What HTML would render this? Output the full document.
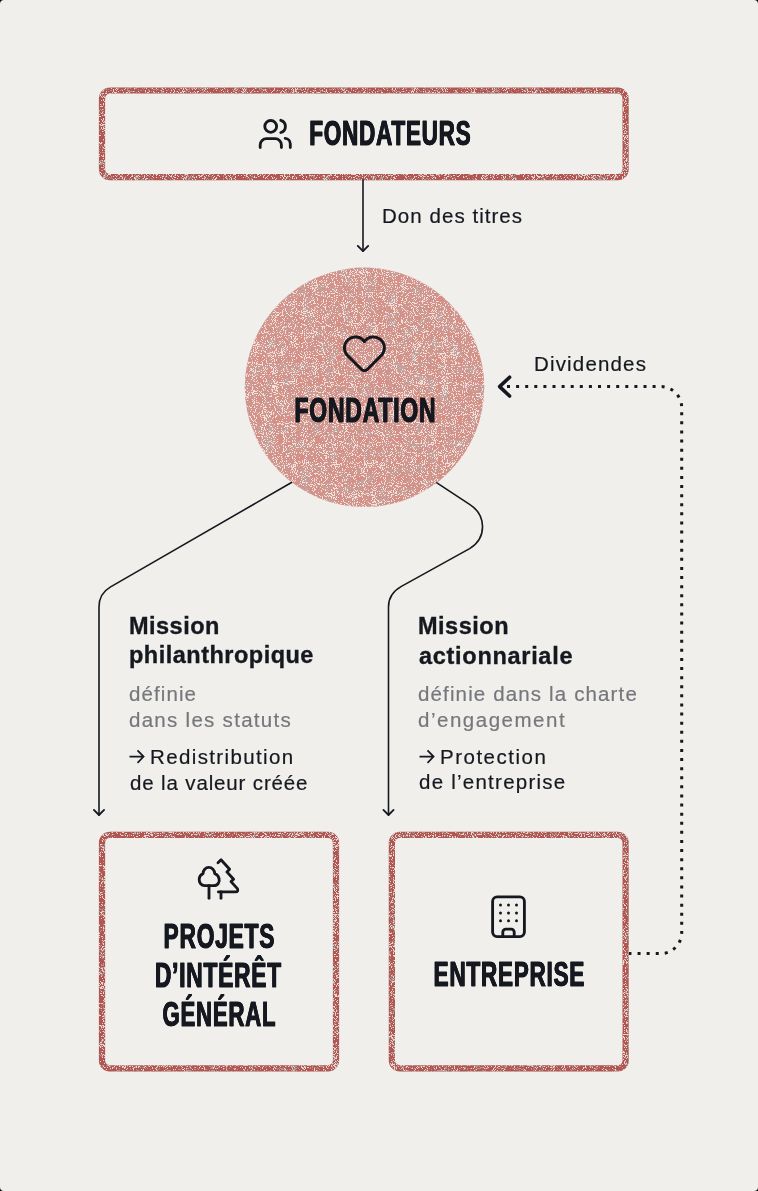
<!DOCTYPE html>
<html><head><meta charset="utf-8">
<style>
html,body{margin:0;padding:0;background:#000;}
#page{position:relative;-webkit-font-smoothing:antialiased;width:758px;height:1191px;background:#F0EFEC;border-radius:4px;overflow:hidden;font-family:"Liberation Sans",sans-serif;color:#15181F;}
svg.full{position:absolute;left:0;top:0;}
.t{position:absolute;will-change:transform;-webkit-text-stroke:0.2px currentColor;white-space:nowrap;font-size:20.5px;line-height:20.5px;letter-spacing:0.9px;}
.g{color:#76777C;}
.b{position:absolute;will-change:transform;-webkit-text-stroke:0.35px #15181F;white-space:nowrap;font-size:23.5px;line-height:23.5px;font-weight:700;letter-spacing:0.35px;}
.h{position:absolute;width:400px;text-align:center;white-space:nowrap;font-size:35.4px;line-height:36px;font-weight:700;transform-origin:50% 50%;-webkit-text-stroke:0.9px #15181F;letter-spacing:1.2px;text-indent:1.2px;text-shadow:0.5px 0 0 #15181F,-0.5px 0 0 #15181F;}
</style></head>
<body><div id="page">
<svg class="full" width="758" height="1191" viewBox="0 0 758 1191">
<defs>
<filter id="spk" filterUnits="userSpaceOnUse" x="0" y="0" width="758" height="1191" color-interpolation-filters="sRGB">
  <feTurbulence type="fractalNoise" baseFrequency="0.9" numOctaves="1" seed="4" result="hi"/>
  <feTurbulence type="fractalNoise" baseFrequency="0.1" numOctaves="2" seed="9" result="lo"/>
  <feColorMatrix in="hi" type="matrix" values="0 0 0 0 1  0 0 0 0 1  0 0 0 0 1  4 0 0 0 -1.5" result="a"/>
  <feColorMatrix in="lo" type="matrix" values="0 0 0 0 1  0 0 0 0 1  0 0 0 0 1  4 0 0 0 -2" result="b"/>
  <feComposite in="a" in2="b" operator="arithmetic" k1="0" k2="0.85" k3="0.3" k4="0" result="m"/>
  <feComponentTransfer in="m" result="w"><feFuncA type="discrete" tableValues="0 0 0 1"/></feComponentTransfer>
  <feFlood flood-color="#F2E0DA" result="wcol"/>
  <feComposite in="wcol" in2="w" operator="in" result="wf"/>
  <feComposite in="wf" in2="SourceGraphic" operator="in" result="wc"/>
  <feTurbulence type="fractalNoise" baseFrequency="0.95" numOctaves="1" seed="21" result="hi2"/>
  <feTurbulence type="fractalNoise" baseFrequency="0.08" numOctaves="2" seed="26" result="lo2"/>
  <feColorMatrix in="hi2" type="matrix" values="0 0 0 0 1  0 0 0 0 1  0 0 0 0 1  4 0 0 0 -1.5" result="a2"/>
  <feColorMatrix in="lo2" type="matrix" values="0 0 0 0 1  0 0 0 0 1  0 0 0 0 1  4 0 0 0 -2" result="b2"/>
  <feComposite in="a2" in2="b2" operator="arithmetic" k1="0" k2="0.85" k3="0.5" k4="0" result="m2"/>
  <feComponentTransfer in="m2" result="g"><feFuncA type="discrete" tableValues="0 0 0 0 0 1"/></feComponentTransfer>
  <feFlood flood-color="#BDAEAB" result="gcol"/>
  <feComposite in="gcol" in2="g" operator="in" result="gf"/>
  <feComposite in="gf" in2="SourceGraphic" operator="in" result="gc"/>
  <feMerge><feMergeNode in="SourceGraphic"/><feMergeNode in="gc"/><feMergeNode in="wc"/></feMerge>
</filter>
<filter id="bspk" filterUnits="userSpaceOnUse" x="0" y="0" width="758" height="1191" color-interpolation-filters="sRGB">
  <feTurbulence type="fractalNoise" baseFrequency="0.9" numOctaves="1" seed="7" result="hi"/>
  <feTurbulence type="fractalNoise" baseFrequency="0.1" numOctaves="2" seed="12" result="lo"/>
  <feColorMatrix in="hi" type="matrix" values="0 0 0 0 1  0 0 0 0 1  0 0 0 0 1  4 0 0 0 -1.5" result="a"/>
  <feColorMatrix in="lo" type="matrix" values="0 0 0 0 1  0 0 0 0 1  0 0 0 0 1  4 0 0 0 -2" result="b"/>
  <feComposite in="a" in2="b" operator="arithmetic" k1="0" k2="0.85" k3="0.3" k4="0" result="m"/>
  <feComponentTransfer in="m" result="w"><feFuncA type="discrete" tableValues="0 0 0 0 0 1"/></feComponentTransfer>
  <feFlood flood-color="#E6D6D2" result="wcol"/>
  <feComposite in="wcol" in2="w" operator="in" result="wf"/>
  <feComposite in="wf" in2="SourceGraphic" operator="in" result="wc"/>
  <feTurbulence type="fractalNoise" baseFrequency="0.95" numOctaves="1" seed="31" result="hi2"/>
  <feTurbulence type="fractalNoise" baseFrequency="0.12" numOctaves="2" seed="36" result="lo2"/>
  <feColorMatrix in="hi2" type="matrix" values="0 0 0 0 1  0 0 0 0 1  0 0 0 0 1  4 0 0 0 -1.5" result="a2"/>
  <feColorMatrix in="lo2" type="matrix" values="0 0 0 0 1  0 0 0 0 1  0 0 0 0 1  4 0 0 0 -2" result="b2"/>
  <feComposite in="a2" in2="b2" operator="arithmetic" k1="0" k2="0.85" k3="0.5" k4="0" result="m2"/>
  <feComponentTransfer in="m2" result="g"><feFuncA type="discrete" tableValues="0 0 0 0 0 1"/></feComponentTransfer>
  <feFlood flood-color="#B09894" result="gcol"/>
  <feComposite in="gcol" in2="g" operator="in" result="gf"/>
  <feComposite in="gf" in2="SourceGraphic" operator="in" result="gc"/>
  <feMerge><feMergeNode in="SourceGraphic"/><feMergeNode in="gc"/><feMergeNode in="wc"/></feMerge>
</filter>
</defs>
  <!-- boxes -->
  <g fill="none" stroke="#B35652" stroke-width="6.2" filter="url(#bspk)">
    <rect x="102" y="90.5" width="523.6" height="86.7" rx="8"/>
    <rect x="102" y="834.8" width="234" height="233.6" rx="8"/>
    <rect x="391.9" y="834.8" width="233.7" height="233.6" rx="8"/>
  </g>
  <!-- circle -->
  <circle cx="364.5" cy="387.3" r="119.7" fill="#D59188" filter="url(#spk)"/>
  <!-- connectors -->
  <g fill="none" stroke="#15181F" stroke-width="1.6" stroke-linecap="round" stroke-linejoin="round">
    <path d="M363 180 L363 251"/>
    <path d="M357.8 245.9 L363 251.1 L368.2 245.9" stroke-width="1.9"/>
    <path d="M291.5 482.5 L110.6 586.9 Q99 593.6 99 607 L99 815"/>
    <path d="M93.9 809.9 L99 815 L104.1 809.9" stroke-width="1.8"/>
    <path d="M436.9 482.9 L469.6 504.3 C486.7 515.4 487 537.8 469.6 548.6 L401.4 586.4 Q388.5 593.6 388.5 607 L388.5 815"/>
    <path d="M383.4 809.9 L388.5 815 L393.6 809.9" stroke-width="1.8"/>
  </g>
  <!-- dotted dividends -->
  <path d="M507 386.6 L660.7 386.6 A21 21 0 0 1 681.7 407.6 L681.7 932.6 A21 21 0 0 1 660.7 953.6 L629 953.6" fill="none" stroke="#15181F" stroke-width="3" stroke-dasharray="3 6.1"/>
  <path d="M509.6 377.2 L499.6 386.6 L509.6 396" fill="none" stroke="#15181F" stroke-width="3.6" stroke-linecap="round" stroke-linejoin="round"/>
  <!-- icons -->
  <g fill="none" stroke="#15181F" stroke-width="2.85" stroke-linecap="round" stroke-linejoin="round">
    <!-- people -->
    <circle cx="270.7" cy="126.4" r="5.9"/>
    <path d="M280.8 120.3 A6.35 6.35 0 0 1 280.8 132.5"/>
    <path d="M260.2 147.5 L260.2 145 A6.4 6.4 0 0 1 266.6 138.6 L275 138.6 A6.4 6.4 0 0 1 281.4 145 L281.4 147.5"/>
    <path d="M285.2 138.4 A5.5 5.5 0 0 1 290.3 144 L290.3 147.5"/>
    <!-- heart -->
    <path stroke-width="3" d="M364.4 341.75 A10.9 10.9 0 1 0 347.7 355.6 L361.57 369.47 A4 4 0 0 0 367.23 369.47 L381.1 355.6 A10.9 10.9 0 1 0 364.4 341.75 Z"/>
    <!-- trees -->
    <path d="M209 885.6 L209 898.2"/>
    <path d="M204.8 885.6 L213.6 885.6 C218 885.6 220 882 219 878.5 C218.3 875.5 216 874 214.7 873.6 C214.7 870 212 867.4 208.8 867.4 C205.6 867.4 203 870 203.1 873.6 C201.5 874.2 199.5 876 199.2 878.8 C199 882.5 201 885.6 204.8 885.6 Z"/>
    <path d="M218 862.7 L221 859.8 L229.6 869.2 L226.9 871.9 L233.6 879.3 L231 881.6 L237.4 888.6 Q238.6 891.9 235.6 891.9 L218.4 891.9"/>
    <path d="M221 891.9 L221 898.2"/>
    <!-- building -->
    <rect x="492.6" y="896.9" width="31.8" height="39.7" rx="4.5"/>
    <path d="M502.8 936.6 L502.8 932.1 A3 3 0 0 1 505.8 929.1 L511.2 929.1 A3 3 0 0 1 514.2 932.1 L514.2 936.6"/>
  </g>
  <g fill="#15181F">
    <circle cx="500.5" cy="905" r="1.5"/><circle cx="508.5" cy="905" r="1.5"/><circle cx="516.5" cy="905" r="1.5"/>
    <circle cx="500.5" cy="912.9" r="1.5"/><circle cx="508.5" cy="912.9" r="1.5"/><circle cx="516.5" cy="912.9" r="1.5"/>
    <circle cx="500.5" cy="920.8" r="1.5"/><circle cx="508.5" cy="920.8" r="1.5"/><circle cx="516.5" cy="920.8" r="1.5"/>
  </g>
  <!-- small text arrows -->
  <g fill="none" stroke="#15181F" stroke-width="1.7" stroke-linecap="butt" stroke-linejoin="miter">
    <path d="M129.5 756.6 L143.5 756.6 M137.5 750.4 L143.6 756.6 L137.5 762.8"/>
    <path d="M419.5 756.6 L433.5 756.6 M427.5 750.4 L433.6 756.6 L427.5 762.8"/>
  </g>
</svg>

<div class="h" id="h1" style="left:189.77px;top:115.11px;transform:scaleX(0.6350);">FONDATEURS</div>
<div class="h" id="h2" style="left:164.92px;top:392.11px;transform:scaleX(0.6495);">FONDATION</div>
<div class="h" id="h3" style="left:19.13px;top:917.91px;transform:scaleX(0.6431);">PROJETS</div>
<div class="h" id="h4" style="left:17.66px;top:957.11px;transform:scaleX(0.6427);">D’INTÉRÊT</div>
<div class="h" id="h5" style="left:19.38px;top:995.61px;transform:scaleX(0.6274);">GÉNÉRAL</div>
<div class="h" id="h6" style="left:308.82px;top:956.21px;transform:scaleX(0.6363);">ENTREPRISE</div>

<div class="t" id="l1" style="left:382.40px;top:205.52px;letter-spacing:1.046px;">Don des titres</div>
<div class="t" id="l2" style="left:533.90px;top:354.02px;letter-spacing:1.167px;">Dividendes</div>

<div class="b" id="l3" style="left:129.28px;top:615.25px;letter-spacing:0.478px;">Mission</div>
<div class="b" id="l4" style="left:129.30px;top:644.00px;letter-spacing:0.493px;">philanthropique</div>
<div class="t g" id="l5" style="left:129.12px;top:683.88px;letter-spacing:1.100px;">définie</div>
<div class="t g" id="l6" style="left:129.12px;top:709.90px;letter-spacing:1.285px;">dans les statuts</div>
<div class="t" id="l7" style="left:150.40px;top:747.02px;letter-spacing:1.369px;">Redistribution</div>
<div class="t" id="l8" style="left:129.62px;top:772.52px;letter-spacing:0.855px;">de la valeur créée</div>

<div class="b" id="l9" style="left:417.78px;top:615.25px;letter-spacing:0.500px;">Mission</div>
<div class="b" id="l10" style="left:419.00px;top:644.50px;letter-spacing:0.707px;">actionnariale</div>
<div class="t g" id="l11" style="left:418.12px;top:683.88px;letter-spacing:1.140px;">définie dans la charte</div>
<div class="t g" id="l12" style="left:418.12px;top:710.39px;letter-spacing:1.515px;">d’engagement</div>
<div class="t" id="l13" style="left:440.40px;top:746.52px;letter-spacing:1.504px;">Protection</div>
<div class="t" id="l14" style="left:418.62px;top:771.52px;letter-spacing:1.245px;">de l’entreprise</div>

</div></body></html>
